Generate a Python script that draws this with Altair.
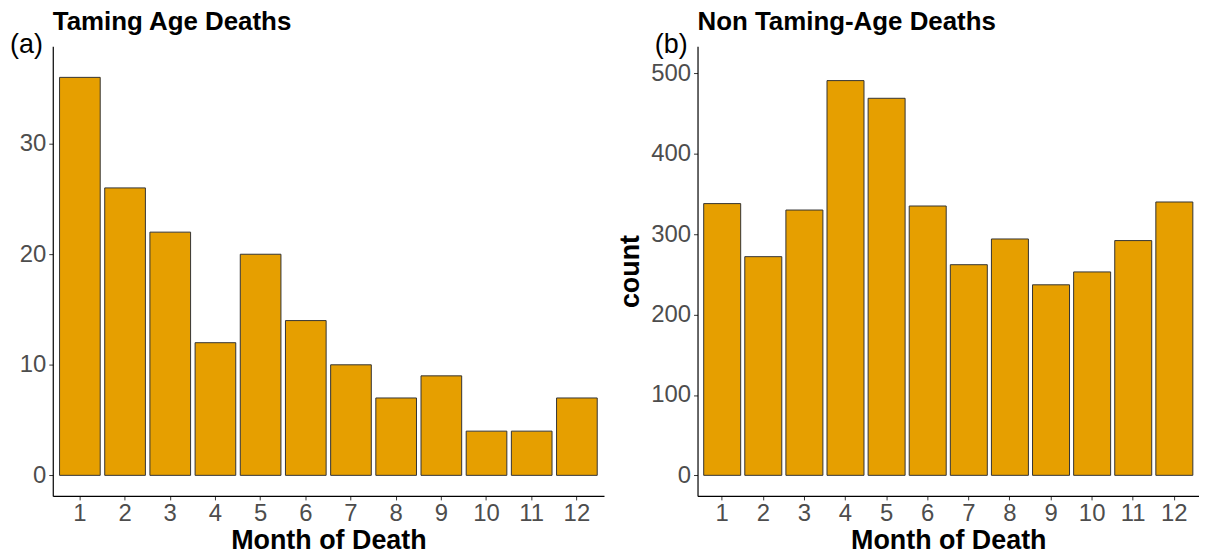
import altair as alt
import pandas as pd

months = [str(m) for m in range(1, 13)]
taming_counts = [36, 26, 22, 12, 20, 14, 10, 7, 9, 4, 4, 7]
non_taming_counts = [338, 272, 330, 491, 469, 335, 262, 294, 237, 253, 292, 340]

left_title = "Taming Age Deaths"
right_title = "Non Taming-Age Deaths"
left_tag = "(a)"
right_tag = "(b)"
x_title = "Month of Death"
right_y_title = "count"
left_ticks = [0, 10, 20, 30]
right_ticks = [0, 100, 200, 300, 400, 500]

FILL = "#E69F00"
FONT = "Liberation Sans"
LBL = 24
TTL = 27


def x_enc():
    return alt.X(
        "month:O",
        sort=months,
        title=x_title,
        scale=alt.Scale(paddingInner=0.1, paddingOuter=0.15),
        axis=alt.Axis(labelAngle=0, labelFontSize=LBL, labelColor="#4d4d4d",
                      labelFont=FONT, labelPadding=2,
                      titleFontSize=TTL, titleFont=FONT, titleFontWeight="bold",
                      titleColor="black", titlePadding=2,
                      domainColor="black", domainWidth=1.2,
                      tickColor="#333333", tickSize=4, tickWidth=1, grid=False),
    )


def panel(counts, domain, ticks, ytitle, title, tag, width):
    df = pd.DataFrame({"month": months, "count": counts})
    yaxis = alt.Axis(values=ticks, labelFontSize=LBL, labelColor="#4d4d4d",
                     labelFont=FONT, labelPadding=3,
                     titleFontSize=TTL, titleFont=FONT, titleFontWeight="bold",
                     titleColor="black", titlePadding=6,
                     domainColor="black", domainWidth=1.2,
                     tickColor="#333333", tickSize=4, tickWidth=1, grid=False)
    bars = alt.Chart(df).mark_bar(fill=FILL, stroke="#333333", strokeWidth=1).encode(
        x=x_enc(),
        y=alt.Y("count:Q", scale=alt.Scale(domain=domain, nice=False, zero=False),
                axis=yaxis, title=ytitle),
        y2=alt.datum(0),
    )
    tag_df = pd.DataFrame({"t": [tag]})
    tag_mark = alt.Chart(tag_df).mark_text(
        align="right", baseline="middle", fontSize=27, font=FONT, color="black"
    ).encode(x=alt.value(-10), y=alt.value(-1), text="t:N")
    return alt.layer(bars, tag_mark).properties(
        width=width, height=452,
        title=alt.TitleParams(title, anchor="start", frame="group", fontSize=26,
                              font=FONT, fontWeight="bold", color="black",
                              offset=-4),
    )


left = panel(taming_counts, [-1.86, 38.82], left_ticks, None, left_title, left_tag, 554)
right = panel(non_taming_counts, [-25.6, 533.8], right_ticks, right_y_title,
              right_title, right_tag, 504)

chart = alt.hconcat(left, right, spacing=12).configure_view(stroke=None).properties(
    padding={"left": 2, "top": 0, "right": 0, "bottom": 0}, background="white"
)

chart.save("out.html", embed_options={"renderer": "svg", "actions": False})
